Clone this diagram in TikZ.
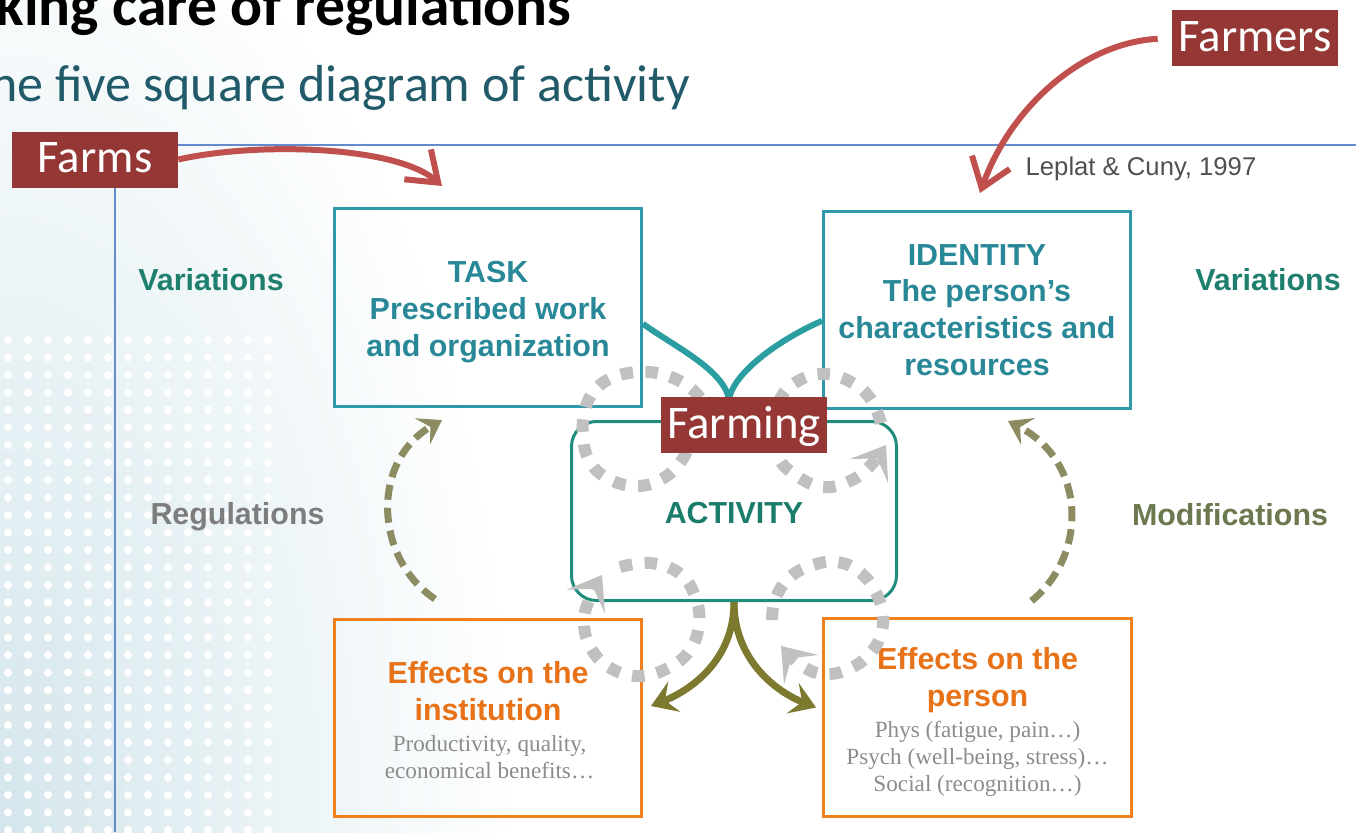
\documentclass[tikz,border=0pt]{standalone}
\usepackage{fontspec}
\setmainfont{Liberation Sans}
\newfontfamily\calfont{Carlito}
\newfontfamily\timesfont{Liberation Serif}
\usetikzlibrary{arrows.meta,calc}
\definecolor{tealb}{RGB}{47,152,170}
\definecolor{tealtext}{RGB}{40,136,152}
\definecolor{actb}{RGB}{32,140,124}
\definecolor{acttext}{RGB}{26,125,108}
\definecolor{vargreen}{RGB}{30,127,110}
\definecolor{orangeb}{RGB}{240,128,30}
\definecolor{orangetext}{RGB}{232,114,24}
\definecolor{graytext}{RGB}{140,140,140}
\definecolor{reggray}{RGB}{125,125,125}
\definecolor{modgreen}{RGB}{108,120,78}
\definecolor{olivesolid}{RGB}{125,122,48}
\definecolor{olivedash}{RGB}{140,139,98}
\definecolor{loopgray}{RGB}{192,192,192}
\definecolor{labelred}{RGB}{149,55,53}
\definecolor{arrowred}{RGB}{192,80,77}
\definecolor{blueline}{RGB}{100,140,205}
\definecolor{tealcurve}{RGB}{42,158,160}
\definecolor{subteal}{RGB}{33,90,105}
\definecolor{refgray}{RGB}{80,80,80}
\definecolor{bgtint}{RGB}{212,230,236}
\begin{document}
\begin{tikzpicture}[x=0.2mm,y=-0.2mm,
  sqbox/.style={draw=tealb, line width=0.6mm, inner sep=0, minimum width=61.4mm, minimum height=39.6mm},
  obox/.style={draw=orangeb, line width=0.6mm, inner sep=0, minimum width=61.4mm, minimum height=39.6mm},
  actbox/.style={draw=actb, line width=0.6mm, rounded corners=5mm, inner sep=0, minimum width=65mm, minimum height=35.8mm},
  btext/.style={font=\fontsize{17.3}{20.9}\selectfont\bfseries, align=center, inner sep=0},
  ttext/.style={btext, text=tealtext},
  otext/.style={btext, text=orangetext},
  dtext/.style={font=\timesfont\fontsize{13.2}{15.4}\selectfont, text=graytext, align=center, inner sep=0},
  sidelab/.style={font=\fontsize{17.3}{20.9}\selectfont\bfseries, inner sep=0},
  redlabel/.style={fill=labelred, text=white, font=\calfont\fontsize{26.6}{30}\selectfont, minimum width=33.2mm, minimum height=11.2mm, inner sep=0, text height=14.8pt, text depth=0pt},
  redarrow/.style={draw=arrowred, line width=1.2mm, -{Straight Barb[length=5.5mm,width=8mm]}},
  tealconn/.style={draw=tealcurve, line width=1.2mm},
  oarrow/.style={draw=olivesolid, line width=1.4mm, -{Stealth[length=5mm,width=6.5mm,inset=2mm]}},
  odash/.style={draw=olivedash, line width=1.4mm, dash pattern=on 3mm off 1.6mm, -{Stealth[length=4.5mm,width=6mm,inset=1.8mm]}},
  gloop/.style={draw=loopgray, line width=2.4mm, dash pattern=on 2.5mm off 2.5mm},
  gloopa/.style={gloop, -{Stealth[length=6.2mm,width=9mm,inset=3mm]}},
  bline/.style={draw=blueline, line width=0.4mm}
]
\useasboundingbox (0,0) rectangle (1356,832);
\begin{scope}
  \clip (0,0) rectangle (1356,832);
  \fill[white] (0,0) rectangle (1356,832);
  \shade[inner color=bgtint, outer color=white] (0,832) ellipse (520 and 1000);
  \foreach \i in {0,...,13}{
    \foreach \j in {0,...,28}{
      \fill[white] (8+\i*20, 340+\j*17.5) circle (4);
    }
  }
  \node[anchor=base east, inner sep=0, font=\calfont\bfseries\fontsize{33.9}{40}\selectfont] (title) at (572,25) {Taking care of regulations};
  \node[anchor=base east, inner sep=0, text=subteal, font=\calfont\fontsize{29.6}{34}\selectfont] (subtitle) at (690,101) {The five square diagram of activity};
\end{scope}

% frame lines
\draw[bline] (115,832) -- (115,145) -- (1356,145);

% reference
\node[font=\fontsize{14.6}{17}\selectfont, text=refgray, inner sep=0] (ref) at (1141,169) {Leplat \& Cuny, 1997};

% boxes
\node[sqbox] (task) at (488,307.5) {};
\node[sqbox, minimum height=39.4mm] (ident) at (977,310) {};
\node[actbox] (act) at (734,511) {};
\node[obox, minimum height=39.4mm] (inst) at (488,718) {};
\node[obox, minimum width=61.6mm] (per) at (977.5,717.5) {};

% box texts
\node[ttext] (tasktext) at (488,312) {TASK\\Prescribed work\\and organization};
\node[ttext] (identtext) at (977,310) {IDENTITY\\The person’s\\characteristics and\\resources};
\node[btext, text=acttext] (acttext) at (734,513) {ACTIVITY};
\node[otext] (insthead) at (488,691) {Effects on the\\institution};
\node[dtext] (instdet) at (489.5,757) {Productivity, quality,\\economical benefits…};
\node[otext] (perhead) at (977.5,680) {Effects on the\\person};
\node[dtext] (perdet) at (977.5,758.5) {Phys (fatigue, pain…)\\Psych (well-being, stress)…\\Social (recognition…)};

% side labels
\node[sidelab, text=vargreen] (var1) at (211,280) {Variations};
\node[sidelab, text=vargreen] (var2) at (1268,280) {Variations};
\node[sidelab, text=reggray] (reg) at (237.5,517) {Regulations};
\node[sidelab, text=modgreen] (mod) at (1230,515) {Modifications};

% teal connectors task/identity -> activity
\coordinate (meet) at (729,399);
\draw[tealconn] (task.-6.5) .. controls +(30,22) and +(-6,-30) .. (meet);
\draw[tealconn] (ident.184.5) .. controls +(-35,15) and +(6,-30) .. (meet);
\draw[tealconn] (meet) -- (meet |- act.north);

% olive arrows activity -> effects
\draw[oarrow] (act.south) .. controls +(0,58) and +(40,-16) .. ($(inst.east)+(8,-12)$);
\draw[oarrow] (act.south) .. controls +(0,58) and +(-40,-16) .. ($(per.west)+(-6,-10)$);

% dashed olive arrows
\draw[odash] ($(inst.north)+(-53,-19)$) .. controls +(-60,-40) and +(-72,42) .. ($(task.south)+(-46,12)$);
\draw[odash] ($(per.north)+(54,-16)$) .. controls +(58,-48) and +(77,40) .. ($(ident.south)+(31,11)$);

% gray loops
\draw[gloop] plot[smooth, tension=0.7] coordinates {(700,398) (688,386) (665,375) (640,372) (614,377) (595,390) (585,410) (583,435) (589,460) (607,478) (635,486) (662,479) (682,460) (692,438)};
\draw[gloopa] plot[smooth, tension=0.7] coordinates {(881,423) (870,398) (849,381) (823,374) (798,381) (780,399) (773,428) (778,457) (797,476) (823,487) (850,481) (870,466) (886,445)};
\draw[gloopa] plot[smooth, tension=0.7] coordinates {(620,567) (650,563) (679,573) (695,596) (699,623) (690,650) (668,668) (640,676) (612,669) (592,650) (584,624) (589,600) (602,575)};
\draw[gloopa] plot[smooth, tension=0.7] coordinates {(772,620) (775,600) (788,579) (810,566) (837,562) (861,573) (878,597) (883,624) (873,650) (851,668) (825,674) (802,666) (781,646)};

% red labels
\node[redlabel] (farms) at (95,159.5) {Farms};
\node[redlabel] (farmers) at (1255,38) {Farmers};
\node[redlabel] (farming) at (744,425) {Farming};
\coordinate (farmsTip) at (442,186);
\coordinate (farmersTip) at (980,193);
\draw[redarrow] (farms.east) .. controls +(80,-18) and +(-45,-40) .. (farmsTip);
\draw[redarrow, shorten <=2.8mm] (farmers.west) .. controls +(-90,5) and +(30,-85) .. (farmersTip);
\end{tikzpicture}
\end{document}
